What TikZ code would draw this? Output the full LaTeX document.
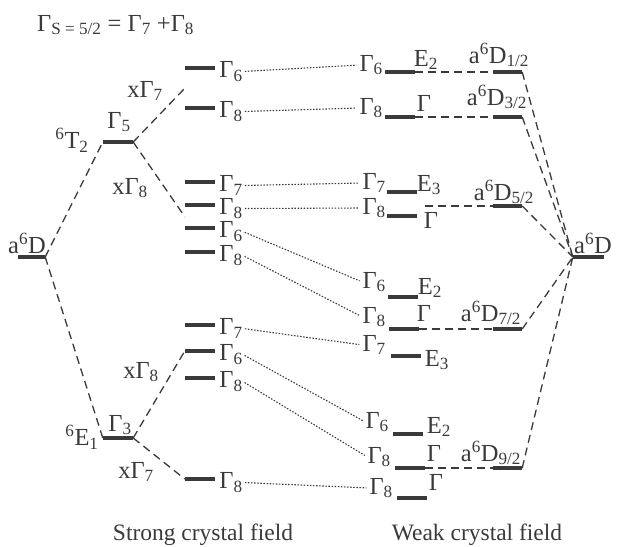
\documentclass[tikz,border=0pt]{standalone}
\usepackage{fontspec}
\setmainfont{Liberation Serif}
\usetikzlibrary{positioning}
\definecolor{ink}{HTML}{3A3A3A}
\newcommand{\Gam}[1]{Γ\textsubscript{#1}}
\newcommand{\aD}[1]{a\textsuperscript{6}D\textsubscript{#1}}

\begin{document}
\begin{tikzpicture}[
  x=1pt, y=-1pt,
  every node/.style={font=\fontsize{24.5}{28}\selectfont, text=ink, inner sep=0pt},
  lvl/.style={fill=ink, minimum width=30pt, minimum height=4pt, inner sep=0pt},
  slab/.style={right=4pt of #1, yshift=-3.5pt},
  link/.style={draw=ink, line width=1.3pt, dash pattern=on 8pt off 5pt},
  corr/.style={draw=ink, line width=1.1pt, dash pattern=on 1.5pt off 1.6pt,
    shorten <=2pt, shorten >=3pt},
  field/.style={font=\fontsize{23.5}{27}\selectfont},
]
\useasboundingbox (0,0) rectangle (617,546);

\node[anchor=west] (title) at (37,25) {Γ\textsubscript{S = 5/2} = \Gam{7} +\Gam{8}};

% Free ion term and cubic terms.
\node[lvl, minimum width=27pt] (aDL) at (31.5,257) {};
\node (aDLl) at (27,243) {a\textsuperscript{6}D};
\node[lvl] (g5) at (118,142) {};
\node (g5l) at (119,122) {\Gam{5}};
\node (t2l) at (72,140) {\textsuperscript{6}T\textsubscript{2}};
\node[lvl] (g3) at (118,438) {};
\node (g3l) at (120,425) {\Gam{3}};
\node (e1l) at (82,437) {\textsuperscript{6}E\textsubscript{1}};

\node (x7a) at (145,91) {x\Gam{7}};
\node (x8a) at (130,188) {x\Gam{8}};
\node (x8b) at (141,372) {x\Gam{8}};
\node (x7b) at (136,472) {x\Gam{7}};

% Strong crystal field levels.
\node[lvl] (s1a) at (200,68) {};
\node[lvl] (s1b) at (200,108) {};
\node[lvl] (s2a) at (200,182) {};
\node[lvl] (s2b) at (200,205) {};
\node[lvl] (s2c) at (200,228) {};
\node[lvl] (s2d) at (200,252) {};
\node[lvl] (s3a) at (200,325) {};
\node[lvl] (s3b) at (200,351) {};
\node[lvl] (s3c) at (200,378) {};
\node[lvl] (s4a) at (200,479) {};

\node[slab=s1a] (ls1a) {\Gam{6}};
\node[slab=s1b] (ls1b) {\Gam{8}};
\node[slab=s2a] (ls2a) {\Gam{7}};
\node[slab=s2b] (ls2b) {\Gam{8}};
\node[slab=s2c] (ls2c) {\Gam{6}};
\node[slab=s2d] (ls2d) {\Gam{8}};
\node[slab=s3a] (ls3a) {\Gam{7}};
\node[slab=s3b] (ls3b) {\Gam{6}};
\node[slab=s3c] (ls3c) {\Gam{8}};
\node[slab=s4a] (ls4a) {\Gam{8}};

\coordinate (m1) at (185,88);
\coordinate (m2) at (185,217);

\draw[link] (aDL.east) -- (g5.west);
\draw[link] (aDL.east) -- (g3.west);
\draw[link] (g5.east) -- (m1);
\draw[link] (g5.east) -- (m2);
\draw[link] (g3.east) -- (s3b.west);
\draw[link] (g3.east) -- (s4a.west);

% Weak crystal field levels.
\node[lvl] (w1a) at (400,72) {};
\node[lvl] (w1b) at (400,117) {};
\node[lvl] (w2a) at (401.5,192) {};
\node[lvl] (w2b) at (402,216) {};
\node[lvl] (w3a) at (403,297) {};
\node[lvl] (w3b) at (404,329) {};
\node[lvl] (w3c) at (406,356) {};
\node[lvl] (w4a) at (407.5,434) {};
\node[lvl] (w4b) at (410,468) {};
\node[lvl] (w4c) at (412,498) {};

\node[anchor=east] (lw1a) at (383,65) {\Gam{6}};
\node[anchor=east] (lw1b) at (383,108) {\Gam{8}};
\node[anchor=east] (lw2a) at (386,183) {\Gam{7}};
\node[anchor=east] (lw2b) at (386,208) {\Gam{8}};
\node[anchor=east] (lw3a) at (386,282) {\Gam{6}};
\node[anchor=east] (lw3b) at (386,317) {\Gam{8}};
\node[anchor=east] (lw3c) at (386,345) {\Gam{7}};
\node[anchor=east] (lw4a) at (389,422) {\Gam{6}};
\node[anchor=east] (lw4b) at (391,457) {\Gam{8}};
\node[anchor=east] (lw4c) at (393,488) {\Gam{8}};

\node (e1a) at (426,60) {E\textsubscript{2}};
\node (e1b) at (424,103) {Γ};
\node (e2a) at (429,185) {E\textsubscript{3}};
\node (e2b) at (431,220) {Γ};
\node (e3a) at (430,288) {E\textsubscript{2}};
\node (e3b) at (424,313) {Γ};
\node (e3c) at (437,360) {E\textsubscript{3}};
\node (e4a) at (439,427) {E\textsubscript{2}};
\node (e4b) at (434,453) {Γ};
\node (e4c) at (436,482) {Γ};

\draw[corr] (ls1a.east) -- (lw1a.west);
\draw[corr] (ls1b.east) -- (lw1b.west);
\draw[corr] (ls2a.east) -- (lw2a.west);
\draw[corr] (ls2b.east) -- (lw2b.west);
\draw[corr] (ls2c.east) -- (lw3a.west);
\draw[corr] (ls2d.east) -- (lw3b.west);
\draw[corr] (ls3a.east) -- (lw3c.west);
\draw[corr] (ls3b.east) -- (lw4a.west);
\draw[corr] (ls3c.east) -- (lw4b.west);
\draw[corr] (ls4a.east) -- (lw4c.west);

% Spin-orbit levels of the free ion.
\node[lvl, minimum width=29pt] (a1) at (507.5,72) {};
\node[lvl, minimum width=29pt] (a2) at (507.5,117) {};
\node[lvl, minimum width=29pt] (a3) at (507.5,206) {};
\node[lvl, minimum width=29pt] (a4) at (507.5,329) {};
\node[lvl, minimum width=29pt] (a5) at (507.5,468) {};
\node[lvl, minimum width=31pt] (aDR) at (588.5,257) {};

\node (a1l) at (499,55) {\aD{1/2}};
\node (a2l) at (497,97) {\aD{3/2}};
\node (a3l) at (504,192) {\aD{5/2}};
\node (a4l) at (491,313) {\aD{7/2}};
\node (a5l) at (491,453) {\aD{9/2}};
\node (aDRl) at (593,243) {a\textsuperscript{6}D};

\coordinate (c3) at (425,206);
\draw[link] (w1a.east) -- (a1.west);
\draw[link] (w1b.east) -- (a2.west);
\draw[link] (c3) -- (a3.west);
\draw[link] (w3b.east) -- (a4.west);
\draw[link] (w4b.east) -- (a5.west);

\draw[link] (a1.east) -- (aDR.west);
\draw[link] (a2.east) -- (aDR.west);
\draw[link] (a3.east) -- (aDR.west);
\draw[link] (a4.east) -- (aDR.west);
\draw[link] (a5.east) -- (aDR.west);

\node[field] (strong) at (203,535) {Strong crystal field};
\node[field] (weak) at (477,535) {Weak crystal field};

\end{tikzpicture}
\end{document}
